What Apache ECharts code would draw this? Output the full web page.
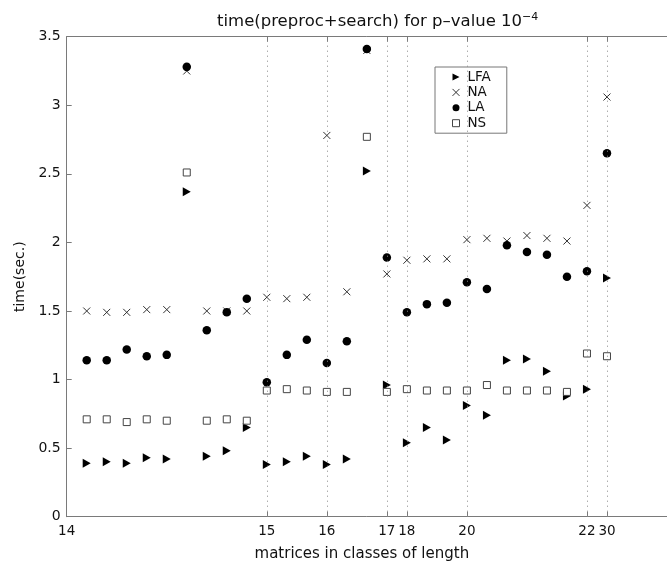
<!DOCTYPE html>
<html>
<head>
<meta charset="utf-8">
<script src="https://cdn.jsdelivr.net/npm/echarts@6/dist/echarts.min.js"></script>
<style>
  html, body { margin: 0; padding: 0; background: #fff; }
  #chart { width: 667px; height: 570px; }
</style>
</head>
<body>
<div id="chart"></div>
<script>
// class positions on the x axis (index slots), slot 0 is the left edge "14"
const slots = [1, 2, 3, 4, 5, 6, 7, 8, 9, 10, 11, 12, 13, 14, 15, 16, 17, 18, 19, 20, 21, 22, 23, 24, 25, 26, 27];

const lfa = [0.39, 0.40, 0.39, 0.43, 0.42, 2.37, 0.44, 0.48, 0.65, 0.38, 0.40, 0.44, 0.38, 0.42, 2.52, 0.96, 0.54, 0.65, 0.56, 0.81, 0.74, 1.14, 1.15, 1.06, 0.88, 0.93, 1.74];
const na  = [1.50, 1.49, 1.49, 1.51, 1.51, 3.25, 1.50, 1.50, 1.50, 1.60, 1.59, 1.60, 2.78, 1.64, 3.40, 1.77, 1.87, 1.88, 1.88, 2.02, 2.03, 2.01, 2.05, 2.03, 2.01, 2.27, 3.06];
const la  = [1.14, 1.14, 1.22, 1.17, 1.18, 3.28, 1.36, 1.49, 1.59, 0.98, 1.18, 1.29, 1.12, 1.28, 3.41, 1.89, 1.49, 1.55, 1.56, 1.71, 1.66, 1.98, 1.93, 1.91, 1.75, 1.79, 2.65];
const ns  = [0.71, 0.71, 0.69, 0.71, 0.70, 2.51, 0.70, 0.71, 0.70, 0.92, 0.93, 0.92, 0.91, 0.91, 2.77, 0.91, 0.93, 0.92, 0.92, 0.92, 0.96, 0.92, 0.92, 0.92, 0.91, 1.19, 1.17];

// tick slots and their labels (lengths)
const tickSlots = [0, 10, 13, 16, 17, 20, 26, 27];
const tickLabels = ['14', '15', '16', '17', '18', '20', '22', '30'];
const dividerSlots = [10, 13, 16, 17, 20, 26, 27];

const FONT = 'DejaVu Sans';
const AXIS_COLOR = '#7a7a7a';
const TRI_RIGHT = 'path://M0,0L10,5L0,10Z';
const CROSS = 'path://M0,0L10,10M10,0L0,10';

const pairs = vals => slots.map((s, i) => [s, vals[i]]);

const naStyle = { color: 'none', borderColor: '#333', borderWidth: 1, opacity: 1 };
const nsStyle = { color: '#fff', borderColor: '#444', borderWidth: 1, opacity: 1 };

const chart = echarts.init(document.getElementById('chart'), null, { renderer: 'canvas' });

const option = {
  animation: false,
  backgroundColor: '#fff',
  title: {
    text: 'time(preproc+search) for p\u2013value 10{sup|\u22124}',
    left: 212,
    top: 7,
    textStyle: {
      fontFamily: FONT,
      fontSize: 16.5,
      fontWeight: 'normal',
      color: '#111',
      rich: {
        sup: { fontSize: 11, verticalAlign: 'top', padding: [0, 0, 8, 0], fontFamily: FONT, color: '#111' }
      }
    }
  },
  legend: {
    orient: 'vertical',
    left: 435,
    top: 67,
    padding: [3, 16, 3, 15],
    itemGap: 1.4,
    itemWidth: 7,
    itemHeight: 7,
    borderColor: '#777',
    borderWidth: 1,
    selectedMode: false,
    textStyle: { fontFamily: FONT, fontSize: 13.5, color: '#111', padding: [0, 0, 0, 3] },
    data: [
      { name: 'LFA', icon: TRI_RIGHT, itemStyle: { color: '#000', opacity: 1 } },
      { name: 'NA', icon: CROSS, itemStyle: naStyle },
      { name: 'LA', icon: 'circle', itemStyle: { color: '#000', opacity: 1 } },
      { name: 'NS', icon: 'rect', itemStyle: nsStyle }
    ]
  },
  grid: {
    left: 66.7,
    top: 36.7,
    bottom: 53.3,
    right: -8,
    containLabel: false
  },
  xAxis: [
    {
      type: 'value',
      min: 0,
      max: 30,
      position: 'bottom',
      name: 'matrices in classes of length',
      nameLocation: 'middle',
      nameGap: 30,
      nameTextStyle: { fontFamily: FONT, fontSize: 15, color: '#111', padding: [0, 10, 0, 0] },
      axisLine: { show: true, lineStyle: { color: AXIS_COLOR, width: 1 } },
      axisTick: { show: true, inside: true, length: 5, customValues: tickSlots, lineStyle: { color: AXIS_COLOR } },
      axisLabel: {
        show: true,
        customValues: tickSlots,
        fontFamily: FONT,
        fontSize: 13.5,
        color: '#111',
        margin: 8,
        formatter: v => tickLabels[tickSlots.indexOf(v)] || ''
      },
      splitLine: { show: false }
    },
    {
      type: 'value',
      min: 0,
      max: 30,
      position: 'top',
      axisLine: { show: true, lineStyle: { color: AXIS_COLOR, width: 1 } },
      axisTick: { show: true, inside: true, length: 5, customValues: dividerSlots, lineStyle: { color: AXIS_COLOR } },
      axisLabel: { show: false },
      splitLine: { show: false }
    }
  ],
  yAxis: {
    type: 'value',
    min: 0,
    max: 3.5,
    interval: 0.5,
    name: 'time(sec.)',
    nameLocation: 'middle',
    nameGap: 39,
    nameTextStyle: { fontFamily: FONT, fontSize: 14, color: '#111' },
    axisLine: { show: true, lineStyle: { color: AXIS_COLOR, width: 1 } },
    axisTick: { show: true, inside: true, length: 5, lineStyle: { color: AXIS_COLOR } },
    axisLabel: { fontFamily: FONT, fontSize: 14, color: '#111', margin: 6 },
    splitLine: { show: false }
  },
  series: [
    {
      name: 'LFA',
      type: 'scatter',
      symbol: TRI_RIGHT,
      symbolSize: [8, 9],
      itemStyle: { color: '#000', opacity: 1 },
      data: pairs(lfa),
      markLine: {
        silent: true,
        symbol: 'none',
        label: { show: false },
        lineStyle: { type: [1, 4], color: '#8a8a8a', width: 1 },
        data: dividerSlots.map(v => ({ xAxis: v }))
      },
      z: 3
    },
    {
      name: 'NA',
      type: 'scatter',
      symbol: CROSS,
      symbolSize: 7,
      itemStyle: naStyle,
      data: pairs(na),
      z: 3
    },
    {
      name: 'LA',
      type: 'scatter',
      symbol: 'circle',
      symbolSize: 8.5,
      itemStyle: { color: '#000', opacity: 1 },
      data: pairs(la),
      z: 4
    },
    {
      name: 'NS',
      type: 'scatter',
      symbol: 'rect',
      symbolSize: 7,
      itemStyle: nsStyle,
      data: pairs(ns),
      z: 4
    }
  ]
};

chart.setOption(option);
</script>
</body>
</html>
